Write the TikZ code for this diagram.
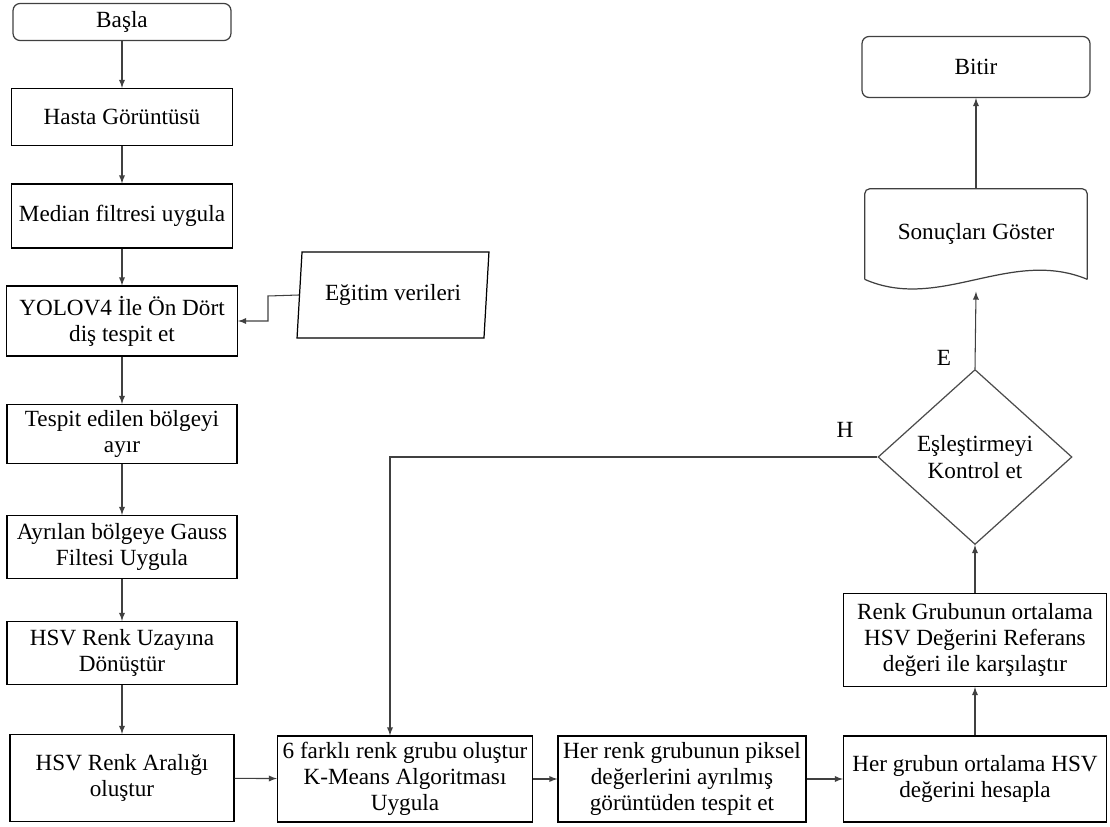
\documentclass[tikz,border=0pt]{standalone}
\usepackage{fontspec}
\setmainfont{Liberation Serif}
\usetikzlibrary{shapes,arrows,positioning}

\begin{document}
\begin{tikzpicture}[x=0.02cm,y=-0.02cm,
    font=\fontsize{13.2}{14.9}\selectfont,
    box/.style={draw,line width=0.7pt,inner sep=0pt,align=center},
    termbox/.style={box,rounded corners=4pt,draw=black!75},
    arr/.style={line width=0.6pt,draw=black!75,-latex}]
    \useasboundingbox (0,0) rectangle (1110,827);

    % Left column
    \node[termbox,minimum width=4.36cm,minimum height=0.74cm] (basla) at (122,22) {Başla};
    \node[box,minimum width=4.42cm,minimum height=1.14cm] (hasta) at (122,117) {Hasta Görüntüsü};
    \node[box,minimum width=4.42cm,minimum height=1.28cm] (median) at (122,216) {Median filtresi uygula};
    \node[box,minimum width=4.62cm,minimum height=1.4cm] (yolo) at (122,321) {YOLOV4 İle Ön Dört\\diş tespit et};
    \node[box,trapezium,trapezium left angle=80,trapezium right angle=100,trapezium stretches=true,
          minimum width=3.86cm,minimum height=1.72cm] (egitim) at (393,295) {Eğitim verileri};
    \node[box,minimum width=4.6cm,minimum height=1.18cm] (tespit) at (122,434) {Tespit edilen bölgeyi\\ayır};
    \node[box,minimum width=4.6cm,minimum height=1.26cm] (gauss) at (122,547) {Ayrılan bölgeye Gauss\\Filtesi Uygula};
    \node[box,minimum width=4.6cm,minimum height=1.26cm] (hsvuzay) at (122,653) {HSV Renk Uzayına\\Dönüştür};

    % Bottom row
    \node[box,minimum width=4.48cm,minimum height=1.74cm] (aralik) at (122,778) {HSV Renk Aralığı\\oluştur};
    \node[box,minimum width=5.1cm,minimum height=1.72cm] (kmeans) at (405,779) {6 farklı renk grubu oluştur\\K-Means Algoritması\\Uygula};
    \node[box,minimum width=4.96cm,minimum height=1.72cm] (piksel) at (682,779) {Her renk grubunun piksel\\değerlerini ayrılmış\\görüntüden tespit et};
    \node[box,minimum width=5.26cm,minimum height=1.72cm] (ortalama) at (975,779) {Her grubun ortalama HSV\\değerini hesapla};

    % Right column
    \node[box,minimum width=5.26cm,minimum height=1.86cm] (referans) at (975,640) {Renk Grubunun ortalama\\HSV Değerini Referans\\değeri ile karşılaştır};
    \node[box,diamond,draw=black!70,minimum width=3.88cm,minimum height=3.5cm] (kontrol) at (975,457) {Eşleştirmeyi\\Kontrol et};
    \node[inner sep=0pt,minimum width=4.44cm,minimum height=1.8cm] (son) at (976,234) {Sonuçları Göster};
    \draw[line width=0.7pt,draw=black!75,rounded corners=3pt] (son.south west) -- (son.north west) -- (son.north east) -- (son.south east);
    \draw[line width=0.7pt,draw=black!75] (son.south east) .. controls +(-77,-32) and +(75,33) .. (son.south west);
    \node[termbox,minimum width=4.56cm,minimum height=1.22cm] (bitir) at (976,67) {Bitir};

    % Labels
    \node (lblE) at (944,358) {E};
    \node (lblH) at (845,430) {H};
    \coordinate (bend) at (268,296);
    \coordinate (hturn) at (390,457);

    % Edges
    \draw[arr] (basla) -- (hasta);
    \draw[arr] (hasta) -- (median);
    \draw[arr] (median) -- (yolo);
    \draw[arr] (egitim.west) -- (bend) |- (yolo.east);
    \draw[arr] (yolo) -- (tespit);
    \draw[arr] (tespit) -- (gauss);
    \draw[arr] (gauss) -- (hsvuzay);
    \draw[arr] (hsvuzay) -- (aralik);
    \draw[arr] (aralik) -- (kmeans);
    \draw[arr] (kmeans) -- (piksel);
    \draw[arr] (piksel) -- (ortalama);
    \draw[arr] (ortalama) -- (referans);
    \draw[arr] (referans) -- (kontrol);
    \draw[arr] (kontrol.west) -- (hturn) -- (hturn |- kmeans.north);
    \draw[arr] (kontrol.north) -- ([yshift=-7pt]son.south);
    \draw[arr] (son.north) -- (bitir);
\end{tikzpicture}
\end{document}
